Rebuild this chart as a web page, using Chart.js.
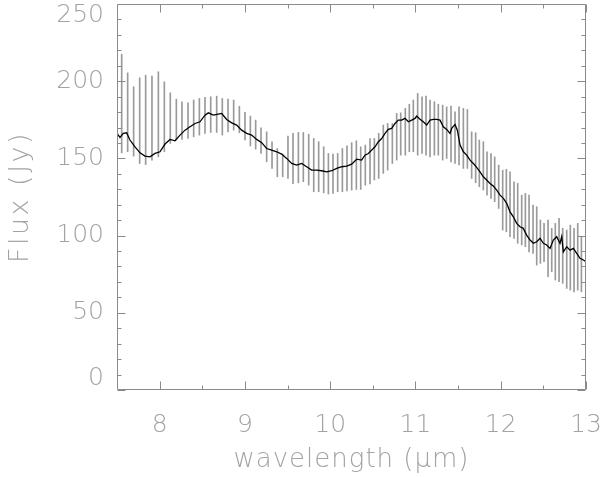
<!DOCTYPE html>
<html><head><meta charset="utf-8">
<script src="https://cdn.jsdelivr.net/npm/chart.js@4/dist/chart.umd.min.js"></script>
<style>html,body{margin:0;padding:0;background:#fff}#wrap{width:600px;height:477px}</style>
</head><body><div id="wrap"><canvas id="c" width="600" height="477"></canvas></div>
<script>
const lineWl = [7.500,7.535,7.574,7.613,7.652,7.711,7.770,7.828,7.887,7.946,8.004,8.063,8.122,8.180,8.239,8.298,8.356,8.415,8.473,8.532,8.571,8.630,8.688,8.728,8.786,8.845,8.903,8.962,9.021,9.079,9.138,9.197,9.255,9.314,9.373,9.431,9.490,9.548,9.607,9.666,9.724,9.783,9.842,9.900,9.959,10.018,10.076,10.135,10.194,10.252,10.311,
10.369,10.408,10.447,10.487,10.526,10.565,10.604,10.643,10.682,10.721,10.760,10.799,10.838,10.877,10.917,10.956,10.995,11.014,11.053,11.092,11.132,11.171,11.210,11.249,11.288,11.327,11.366,11.405,11.425,11.464,11.491,11.523,11.562,11.601,11.640,11.679,11.718,11.757,11.796,11.835,11.874,11.913,11.953,11.992,12.031,12.070,12.109,12.148,12.187,12.226,12.265,12.304,12.344,12.383,12.422,12.461,12.500,12.539,12.578,12.617,12.656,12.695,12.715,12.735,12.774,12.813,12.852,12.891,12.930,12.969,13.000];
const lineFlux = [166.2,163.6,166.2,166.6,161.9,157.5,153.6,151.5,151.0,153.2,154.3,159.3,162.3,161.4,165.1,168.3,170.5,172.6,173.7,178.0,179.5,178.0,178.7,179.1,175.2,173.0,171.6,168.3,166.2,165.1,162.3,160.2,156.4,155.4,154.3,152.8,150.0,146.7,145.7,146.7,144.6,142.4,142.4,142.0,141.3,142.0,143.5,144.6,145.0,146.3,149.5,
148.9,152.1,153.2,155.4,157.5,160.8,162.9,166.2,168.8,169.4,172.6,174.8,174.8,175.9,173.7,174.8,175.9,177.4,175.3,173.7,171.6,174.8,175.3,175.3,174.8,170.5,168.8,166.2,169.4,172.0,168.3,158.6,154.3,152.1,148.9,146.7,144.2,141.3,138.1,136.0,133.8,132.1,129.5,126.2,124.1,120.9,115.4,112.2,107.9,105.7,104.7,100.3,97.1,95.0,96.0,98.2,95.0,93.9,91.7,97.1,99.3,95.0,99.3,89.5,92.8,90.6,91.7,88.5,85.3,84.2,83.1];
const barWl = [7.555,7.625,7.695,7.766,7.836,7.910,7.985,8.055,8.125,8.196,8.262,8.333,8.399,8.466,8.532,8.599,8.669,8.735,8.802,8.868,8.935,9.001,9.064,9.126,9.189,9.255,9.318,9.380,9.443,9.505,9.564,9.627,9.685,9.748,9.807,9.865,9.924,9.979,10.033,10.088,10.143,10.197,10.252,10.307,
10.358,10.412,10.467,10.518,10.569,10.623,10.674,10.729,10.780,10.827,10.881,10.928,10.975,11.026,11.077,11.124,11.171,11.222,11.268,11.319,11.366,11.417,11.464,11.511,11.562,11.609,11.659,11.706,11.749,11.796,11.839,11.886,11.929,11.976,12.023,12.066,12.109,12.156,12.199,12.246,12.289,12.332,12.379,12.422,12.465,12.508,12.555,12.598,12.640,12.684,12.727,12.774,12.816,12.860,12.903,12.946];
const barLo = [153.6,154.3,151.5,146.7,146.0,148.9,151.0,154.3,159.7,161.9,162.3,162.9,164.0,165.1,166.2,166.8,166.8,165.1,167.2,168.3,166.6,161.9,158.0,156.0,153.2,147.8,143.5,138.1,138.1,137.0,133.7,134.2,134.9,132.7,128.4,128.4,127.7,126.9,127.3,128.4,128.4,129.0,129.5,129.9,
129.9,132.7,133.4,136.0,137.0,140.3,142.4,146.7,148.9,152.1,152.1,154.3,154.3,152.1,153.2,152.1,151.0,152.1,152.1,148.9,150.0,147.8,146.7,145.7,143.5,143.5,137.0,134.2,131.7,129.5,126.2,124.1,121.9,117.6,103.6,102.5,99.3,98.2,95.0,93.9,92.8,89.5,88.5,80.9,82.0,83.1,73.4,76.6,71.2,70.1,69.1,65.8,64.7,63.6,64.7,63.6];
const barHi = [217.5,205.4,196.4,202.2,203.9,203.3,206.1,199.6,192.5,188.4,186.7,186.0,187.8,188.8,189.5,189.9,190.3,188.8,188.4,187.8,183.8,179.8,177.4,174.8,169.8,167.2,160.8,156.4,152.8,164.4,166.2,166.8,166.8,165.7,162.9,160.8,157.5,153.2,152.8,153.2,156.4,158.2,160.2,161.4,
157.5,158.6,162.9,162.9,166.2,171.6,172.6,172.6,179.1,179.5,182.4,185.1,187.8,192.1,189.9,190.3,187.8,186.7,185.1,184.5,183.4,183.9,180.2,183.4,182.4,181.7,167.2,166.6,161.9,160.8,154.3,153.2,151.0,145.7,142.4,142.9,141.3,134.9,133.8,126.2,127.3,126.2,119.8,118.7,110.1,107.9,110.1,104.7,107.9,111.2,104.7,103.6,106.8,104.7,107.9,99.3];
const xTickValues = [8,9,10,11,12,13];
const xMinorValues = [8.5,9.5,10.5,11.5,12.5];
const yTickValues = [0,50,100,150,200,250];
const yMinorValues = [10,20,30,40,60,70,80,90,110,120,130,140,160,170,180,190,210,220,230,240];

const AXIS = '#8a8a8a';
const TXT = '#a3a3a3';
const FAM = '"DejaVu Sans", sans-serif';
const TICKFONT = {family:FAM, size:25, weight:200, lineHeight:0.9};

function zeroPad(s){ s.paddingTop=0; s.paddingBottom=0; s.paddingLeft=0; s.paddingRight=0; }

const framePlugin = {
  id:'frame',
  beforeDraw(chart){
    const spacing = {x:'1px', y:'2.5px'};
    for (const id of ['x','y']) {
      const s = chart.scales[id];
      if (s && !s._lsPatched) {
        const orig = s.drawTitle.bind(s);
        s.drawTitle = function(){ const c=this.ctx; c.save(); c.letterSpacing = spacing[id]; orig(); c.restore(); };
        s._lsPatched = true;
      }
    }
  },
  afterDatasetsDraw(chart){
    const {ctx, chartArea:a, scales:{x,y}} = chart;
    ctx.save();
    ctx.strokeStyle = AXIS; ctx.lineWidth = 1;
    const L=Math.round(a.left)+0.5, R=Math.round(a.right)-0.5, T=Math.round(a.top)+0.5, B=Math.round(a.bottom)-0.5;
    ctx.beginPath();
    ctx.rect(L,T,R-L,B-T);
    const xt=(v,len)=>{const p=Math.round(x.getPixelForValue(v))+0.5; ctx.moveTo(p,B); ctx.lineTo(p,B-len); ctx.moveTo(p,T); ctx.lineTo(p,T+len);};
    const yt=(v,len)=>{const p=Math.round(y.getPixelForValue(v))+0.5; ctx.moveTo(L,p); ctx.lineTo(L+len,p); ctx.moveTo(R,p); ctx.lineTo(R-len,p);};
    xTickValues.forEach(v=>xt(v,8)); xMinorValues.forEach(v=>xt(v,4));
    yTickValues.forEach(v=>yt(v,8)); yMinorValues.forEach(v=>yt(v,4));
    ctx.stroke();
    ctx.restore();
  }
};

new Chart(document.getElementById('c'), {
  type:'line',
  data:{datasets:[
    {type:'line', data:lineWl.map((w,i)=>({x:w,y:lineFlux[i]})), borderColor:'#000', borderWidth:1.3, pointRadius:0, tension:0, order:0},
    {type:'bar', data:barWl.map((w,i)=>({x:w,y:[barLo[i],barHi[i]]})), backgroundColor:'#9a9a9a', borderWidth:0, barThickness:1, grouped:false, order:1}
  ]},
  options:{
    responsive:false, animation:false, events:[],
    layout:{padding:{top:4,right:14,left:0,bottom:0}},
    plugins:{legend:{display:false}, tooltip:{enabled:false}},
    scales:{
      x:{type:'linear', min:7.5, max:13, offset:false,
        grid:{display:false, drawTicks:false}, border:{display:false},
        afterBuildTicks:s=>{s.ticks=xTickValues.map(v=>({value:v}));},
        afterFit:s=>{s.height=87; zeroPad(s);},
        ticks:{color:TXT, font:{family:FAM,size:25,weight:200}, padding:20, autoSkip:false, maxRotation:0},
        title:{display:true, text:'wavelength (μm)', color:TXT, font:{family:FAM,size:26,weight:200}, padding:{top:0,bottom:1}}
      },
      y:{type:'linear', min:0, max:250,
        grid:{display:false, drawTicks:false}, border:{display:false},
        afterBuildTicks:s=>{s.ticks=yTickValues.map(v=>({value:v}));},
        afterFit:s=>{s.width=117; zeroPad(s);},
        ticks:{color:TXT, font:TICKFONT, padding:13, autoSkip:false,
          callback:v=> v===250 ? ['', '250'] : (v===0 ? ['0', ''] : String(v))},
        title:{display:true, text:'Flux (Jy)', color:TXT, font:{family:FAM,size:27,weight:200}, padding:{top:5,bottom:0}}
      }
    }
  },
  plugins:[framePlugin]
});
</script></body></html>
